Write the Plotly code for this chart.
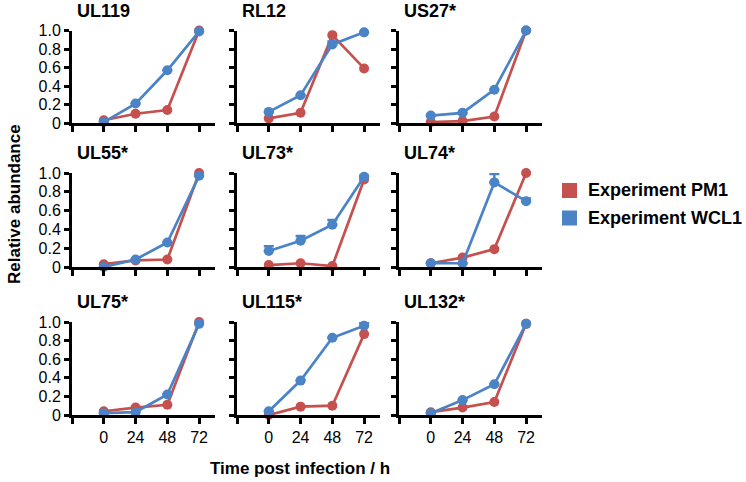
import plotly.graph_objects as go

W, H = 746, 482

time_h = [0, 24, 48, 72]
x_tickvals = [-24, 0, 24, 48, 72]
x_ticktext = ["", "0", "24", "48", "72"]
y_tickvals = [0, 0.2, 0.4, 0.6, 0.8, 1.0]
y_ticktext = ["0", "0.2", "0.4", "0.6", "0.8", "1.0"]

proteins = ["UL119", "RL12", "US27*", "UL55*", "UL73*", "UL74*", "UL75*", "UL115*", "UL132*"]

pm1 = {
    "UL119": [0.03, 0.10, 0.14, 1.00],
    "RL12": [0.05, 0.11, 0.95, 0.59],
    "US27*": [0.01, 0.02, 0.07, 1.00],
    "UL55*": [0.03, 0.07, 0.08, 1.00],
    "UL73*": [0.02, 0.04, 0.01, 0.93],
    "UL74*": [0.04, 0.10, 0.19, 1.00],
    "UL75*": [0.04, 0.08, 0.11, 1.00],
    "UL115*": [0.00, 0.09, 0.10, 0.87],
    "UL132*": [0.03, 0.08, 0.14, 0.98],
}
wcl1 = {
    "UL119": [0.01, 0.21, 0.57, 0.99],
    "RL12": [0.12, 0.30, 0.85, 0.98],
    "US27*": [0.08, 0.11, 0.36, 1.00],
    "UL55*": [0.00, 0.08, 0.26, 0.97],
    "UL73*": [0.17, 0.28, 0.45, 0.96],
    "UL74*": [0.04, 0.04, 0.90, 0.70],
    "UL75*": [0.02, 0.03, 0.22, 0.98],
    "UL115*": [0.04, 0.37, 0.83, 0.96],
    "UL132*": [0.02, 0.16, 0.33, 0.98],
}
wcl1_err = {
    "UL119": [0, 0, 0, 0],
    "RL12": [0, 0, 0.03, 0],
    "US27*": [0, 0, 0, 0],
    "UL55*": [0, 0, 0, 0],
    "UL73*": [0.05, 0.05, 0.05, 0.01],
    "UL74*": [0, 0, 0.09, 0.03],
    "UL75*": [0, 0, 0, 0],
    "UL115*": [0, 0, 0, 0.03],
    "UL132*": [0, 0, 0, 0],
}

series_names = ["Experiment PM1", "Experiment WCL1"]
RED = "#C5504E"
BLUE = "#4A83C6"

# pixel geometry of panels
col_px = [(72, 215), (237, 380), (399, 542)]
row_px = [(30.5, 123), (173, 267), (322, 415)]

fig = go.Figure()
FONT = "Liberation Sans, Arial, sans-serif"

for i, p in enumerate(proteins):
    r, c = divmod(i, 3)
    ax = "" if i == 0 else str(i + 1)
    xa, ya = "x" + ax, "y" + ax
    fig.add_trace(go.Scatter(
        x=time_h, y=pm1[p], mode="lines+markers", xaxis=xa, yaxis=ya,
        line=dict(color=RED, width=2.7), marker=dict(color=RED, size=10),
        cliponaxis=False, showlegend=False))
    fig.add_trace(go.Scatter(
        x=time_h, y=wcl1[p], mode="lines+markers", xaxis=xa, yaxis=ya,
        line=dict(color=BLUE, width=2.7), marker=dict(color=BLUE, size=10),
        error_y=dict(type="data", array=wcl1_err[p], arrayminus=[0] * 4,
                     color=BLUE, thickness=2.5, width=5),
        cliponaxis=False, showlegend=False))
    x0, x1 = col_px[c]
    yt, yb = row_px[r]
    fig.layout["xaxis" + ax] = dict(
        domain=[x0 / W, x1 / W], range=[-24, 84], anchor=ya, automargin=False,
        tickvals=x_tickvals, ticktext=x_ticktext if r == 2 else [""] * 5,
        ticks="outside", ticklen=6, tickwidth=2.5, tickcolor="black",
        showline=True, linecolor="black", linewidth=3, showgrid=False,
        zeroline=False, tickfont=dict(size=16, color="black", family=FONT))
    fig.layout["yaxis" + ax] = dict(
        domain=[1 - yb / H, 1 - yt / H], range=[0, 1.0], anchor=xa, automargin=False,
        tickvals=y_tickvals, ticktext=y_ticktext if c == 0 else [""] * 6,
        ticks="outside", ticklen=5, tickwidth=2.5, tickcolor="black",
        showline=True, linecolor="black", linewidth=3, showgrid=False,
        zeroline=False, tickfont=dict(size=16, color="black", family=FONT))
    fig.add_annotation(
        text="<b>%s</b>" % p, xref="paper", yref="paper",
        x=(x0 + 3) / W, y=1 - (yt - 20) / H, xanchor="left", yanchor="middle",
        showarrow=False, font=dict(size=18, color="black", family=FONT))

# axis titles
fig.add_annotation(text="<b>Relative abundance</b>", xref="paper", yref="paper",
                   x=14 / W, y=1 - 204 / H, textangle=-90, showarrow=False,
                   xanchor="center", yanchor="middle",
                   font=dict(size=17, color="black", family=FONT))
fig.add_annotation(text="<b>Time post infection / h</b>", xref="paper", yref="paper",
                   x=300 / W, y=1 - 468 / H, showarrow=False,
                   xanchor="center", yanchor="middle",
                   font=dict(size=17, color="black", family=FONT))

# legend
for k, (name, col) in enumerate(zip(series_names, [RED, BLUE])):
    yc = 190.5 + k * 27.5
    fig.add_shape(type="rect", xref="paper", yref="paper",
                  x0=562 / W, x1=577 / W, y0=1 - (yc + 7.5) / H, y1=1 - (yc - 7.5) / H,
                  fillcolor=col, line=dict(width=0))
    fig.add_annotation(text="<b>%s</b>" % name, xref="paper", yref="paper",
                       x=586 / W, y=1 - yc / H, xanchor="left", yanchor="middle",
                       showarrow=False, font=dict(size=18, color="black", family=FONT))

fig.update_layout(width=W, height=H,
                  margin=dict(l=0, r=0, t=0, b=0, pad=0, autoexpand=False),
                  plot_bgcolor="white", paper_bgcolor="white", showlegend=False)

fig.write_html("out.html", post_script="document.body.style.margin='0px';",
               config={"displayModeBar": False})
